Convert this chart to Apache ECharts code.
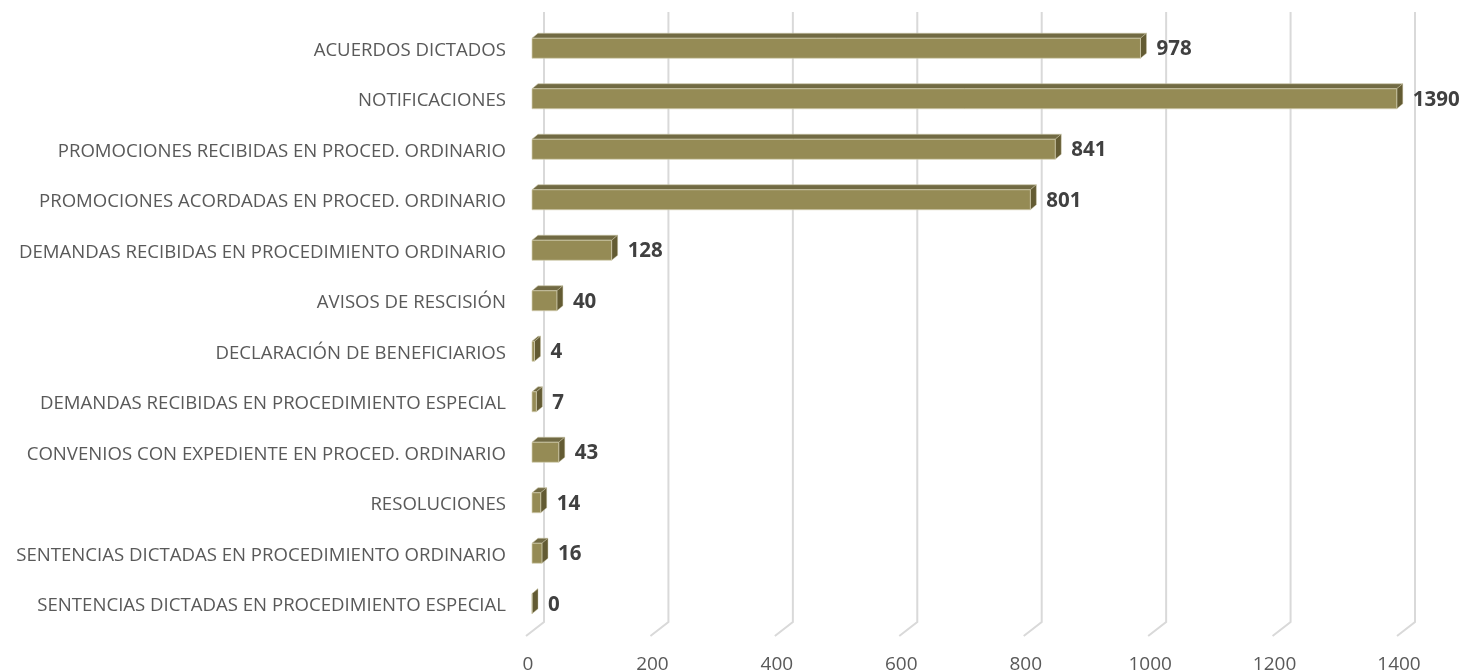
<!DOCTYPE html>
<html>
<head>
<meta charset="utf-8">
<script src="https://cdn.jsdelivr.net/npm/echarts@6/dist/echarts.min.js"></script>
<style>html,body{margin:0;padding:0;background:#fff}#c{width:1464px;height:672px}</style>
</head>
<body>
<div id="c"></div>
<script>
const categories = [
  "ACUERDOS DICTADOS",
  "NOTIFICACIONES",
  "PROMOCIONES RECIBIDAS EN PROCED. ORDINARIO",
  "PROMOCIONES ACORDADAS EN PROCED. ORDINARIO",
  "DEMANDAS RECIBIDAS EN PROCEDIMIENTO ORDINARIO",
  "AVISOS DE RESCISIÓN",
  "DECLARACIÓN DE BENEFICIARIOS",
  "DEMANDAS RECIBIDAS EN PROCEDIMIENTO ESPECIAL",
  "CONVENIOS CON EXPEDIENTE EN PROCED. ORDINARIO",
  "RESOLUCIONES",
  "SENTENCIAS DICTADAS EN PROCEDIMIENTO ORDINARIO",
  "SENTENCIAS DICTADAS EN PROCEDIMIENTO ESPECIAL"
];
const values = [978, 1390, 841, 801, 128, 40, 4, 7, 43, 14, 16, 0];
const xTicks = [0, 200, 400, 600, 800, 1000, 1200, 1400];

const FONT = "'Open Sans', 'Liberation Sans', sans-serif";
const FRONT = '#958b55', TOP = '#716a43', SIDE = '#635b33';
const DX = 6, DY = -5;          // depth vector of the 3D bars
const SHIFT_X = -12, SHIFT_Y = -2; // bars sit in front of back wall
const BAR_H = 20;

const chart = echarts.init(document.getElementById('c'));
chart.setOption({
  animation: false,
  grid: { left: 544, right: 49, top: 25, bottom: 41, containLabel: false, outerBoundsMode: 'none' },
  xAxis: {
    type: 'value', min: 0, max: 1400, interval: 200,
    splitLine: { show: false }, axisLine: { show: false }, axisTick: { show: false },
    axisLabel: { color: '#595959', fontSize: 19, fontFamily: FONT, margin: 24, padding: [0, 32, 0, 0],
      formatter: v => xTicks.indexOf(v) >= 0 ? String(v) : '' }
  },
  yAxis: {
    type: 'category', data: categories, inverse: true,
    axisLine: { show: false }, axisTick: { show: false },
    axisLabel: { color: '#595959', fontSize: 18.6, fontFamily: FONT, margin: 38, padding: [7, 0, 0, 0] }
  },
  series: [
    {
      type: 'custom', z: 1, silent: true,
      data: xTicks.map(v => [v]),
      renderItem: function (params, api) {
        const cs = params.coordSys;
        const x = api.coord([api.value(0), 0])[0];
        const yTop = cs.y - 13;
        const yBot = cs.y + cs.height - 9;
        return {
          type: 'polyline',
          shape: { points: [[x, yTop], [x, yBot], [x - 18, yBot + 14]] },
          style: { stroke: '#d9d9d9', lineWidth: 2, fill: null }
        };
      }
    },
    {
      type: 'custom', z: 2,
      data: values.map((v, i) => [v, i]),
      encode: { x: 0, y: 1 },
      renderItem: function (params, api) {
        const v = api.value(0), i = api.value(1);
        const p0 = api.coord([0, i]);
        const p1 = api.coord([v, i]);
        const x0 = p0[0] + SHIFT_X, x1 = p1[0] + SHIFT_X;
        const yc = p0[1] + SHIFT_Y;
        const yT = yc - BAR_H / 2, yB = yc + BAR_H / 2;
        return {
          type: 'group',
          children: [
            { type: 'polygon', shape: { points: [[x0, yT], [x1, yT], [x1 + DX, yT + DY], [x0 + DX, yT + DY]] },
              style: { fill: TOP, stroke: '#c8c3a2', lineWidth: 0.6 } },
            { type: 'polygon', shape: { points: [[x1, yT], [x1 + DX, yT + DY], [x1 + DX, yB + DY], [x1, yB]] },
              style: { fill: SIDE, stroke: '#c8c3a2', lineWidth: 0.4 } },
            { type: 'rect', shape: { x: x0, y: yT, width: Math.max(x1 - x0, 0), height: BAR_H },
              style: { fill: FRONT, stroke: '#d4d0b2', lineWidth: 0.7 } },
            { type: 'text', x: x1 + 16, y: yc + 1,
              style: { text: String(v), fill: '#404040', font: "bold 20.5px " + FONT, verticalAlign: 'middle', align: 'left' } }
          ]
        };
      }
    }
  ]
});
</script>
</body>
</html>
